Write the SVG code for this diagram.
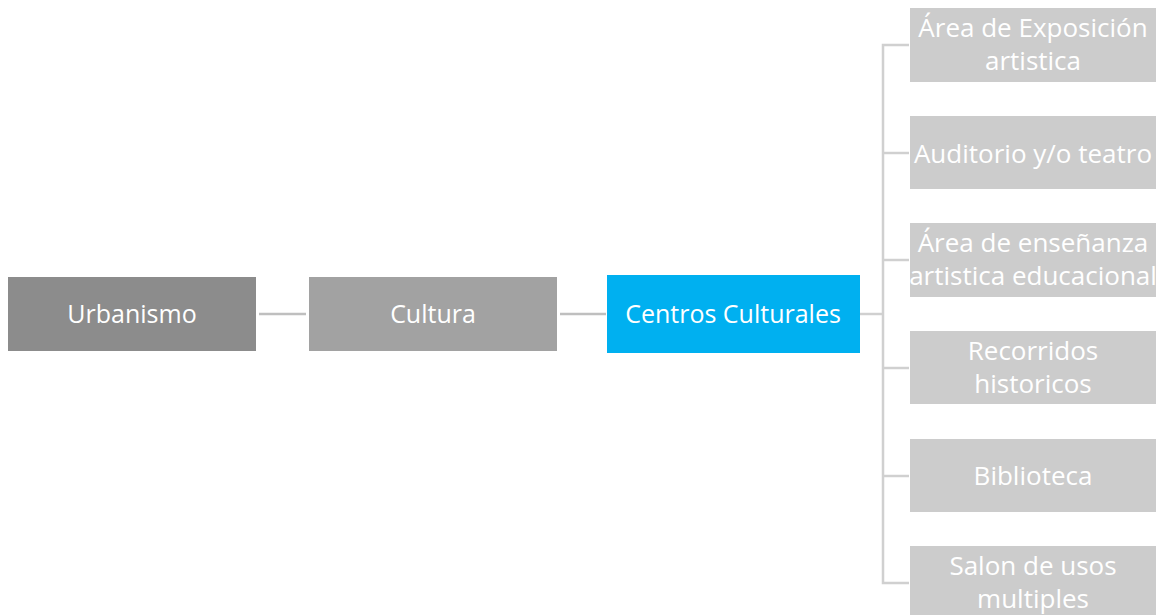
<svg xmlns="http://www.w3.org/2000/svg" width="1156" height="615" viewBox="0 0 1156 615">
<style>
.t{font-family:"Open Sans","Noto Sans","Liberation Sans",sans-serif;font-size:25px;fill:#ffffff;text-anchor:middle}
.r{font-size:26px}
.c{stroke:#d0d0d0;stroke-width:2.5;fill:none}
.cl{stroke:#bfbfbf;stroke-width:2.5;fill:none}
.leaf{fill:#cccccc}
</style>
<rect width="1156" height="615" fill="#ffffff"/>
<g id="connectors">
<line class="cl" x1="259" y1="314" x2="306" y2="314"/>
<line class="cl" x1="560" y1="314" x2="606" y2="314"/>
<line class="c" x1="860" y1="314" x2="883" y2="314"/>
<path class="c" d="M909 45 H883 V583 H909"/>
<line class="c" x1="883" y1="153" x2="909" y2="153"/>
<line class="c" x1="883" y1="260" x2="909" y2="260"/>
<line class="c" x1="883" y1="368" x2="909" y2="368"/>
<line class="c" x1="883" y1="476" x2="909" y2="476"/>
</g>
<g id="urbanismo">
<rect x="8" y="277" width="248" height="74" fill="#8c8c8c"/>
<text class="t" x="132" y="323">Urbanismo</text>
</g>
<g id="cultura">
<rect x="309" y="277" width="248" height="74" fill="#a2a2a2"/>
<text class="t" x="433" y="323">Cultura</text>
</g>
<g id="centros">
<rect x="607" y="275" width="253" height="78" fill="#00b0f0"/>
<text class="t" x="733" y="323">Centros Culturales</text>
</g>
<g id="n1">
<rect class="leaf" x="910" y="8" width="246" height="74"/>
<text class="t r" x="1033" y="37">Área de Exposición</text>
<text class="t r" x="1033" y="70">artistica</text>
</g>
<g id="n2">
<rect class="leaf" x="910" y="116" width="246" height="73"/>
<text class="t r" x="1033" y="163">Auditorio y/o teatro</text>
</g>
<g id="n3">
<rect class="leaf" x="910" y="223" width="246" height="74"/>
<text class="t r" x="1033" y="252">Área de enseñanza</text>
<text class="t r" x="1033" y="285">artistica educacional</text>
</g>
<g id="n4">
<rect class="leaf" x="910" y="331" width="246" height="73"/>
<text class="t r" x="1033" y="360">Recorridos</text>
<text class="t r" x="1033" y="393">historicos</text>
</g>
<g id="n5">
<rect class="leaf" x="910" y="439" width="246" height="73"/>
<text class="t r" x="1033" y="485">Biblioteca</text>
</g>
<g id="n6">
<rect class="leaf" x="910" y="546" width="246" height="74"/>
<text class="t r" x="1033" y="575">Salon de usos</text>
<text class="t r" x="1033" y="608">multiples</text>
</g>
</svg>
